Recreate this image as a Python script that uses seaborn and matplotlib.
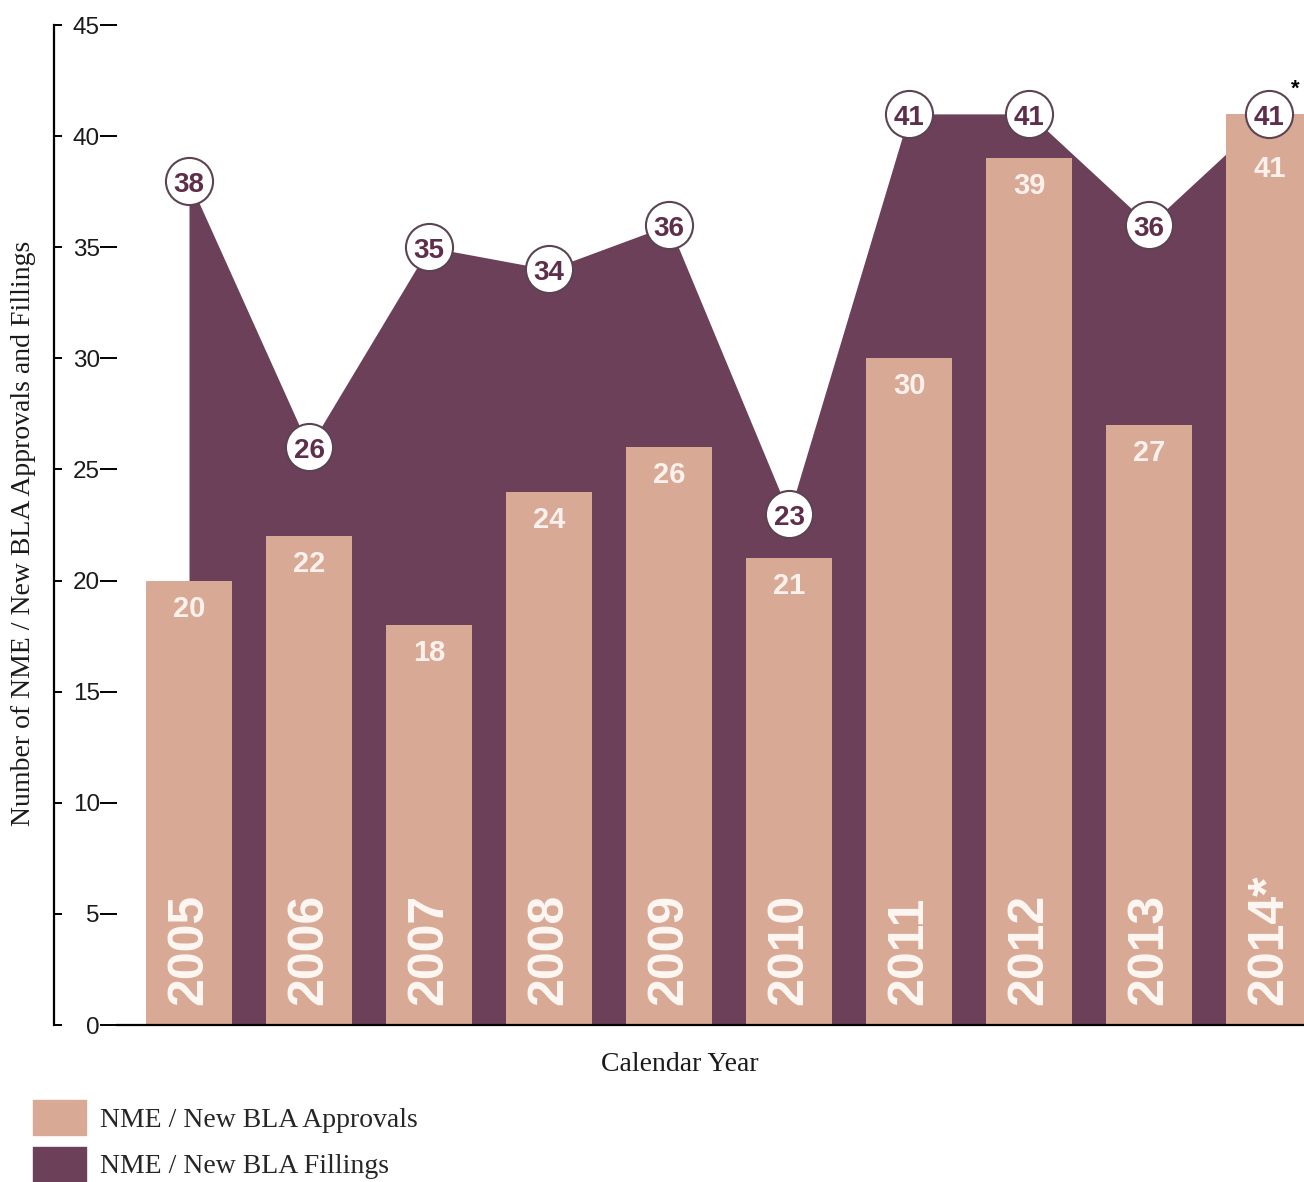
import numpy as np
import seaborn as sns
import matplotlib.pyplot as plt
from matplotlib.patches import Patch

# data
years = ['2005', '2006', '2007', '2008', '2009', '2010', '2011', '2012', '2013', '2014']
year_labels = ['2005', '2006', '2007', '2008', '2009', '2010', '2011', '2012', '2013', '2014*']
approvals = [20, 22, 18, 24, 26, 21, 30, 39, 27, 41]
fillings = [38, 26, 35, 34, 36, 23, 41, 41, 36, 41]
yticks = [0, 5, 10, 15, 20, 25, 30, 35, 40, 45]

bar_color = '#D8A995'
area_color = '#6C4059'
num_color = '#5E2E4A'

sns.set_theme(style='white')
plt.rcParams['font.family'] = ['Liberation Sans', 'DejaVu Sans']

fig = plt.figure(figsize=(13.04, 11.82), dpi=100)
ax = fig.add_axes([117 / 1304, 1 - 1025 / 1182, 1 - 117 / 1304, 1000 / 1182])

# bars (approvals) and the filled area (fillings) behind them
sns.barplot(x=years, y=approvals, color=bar_color, saturation=1, width=0.72,
            linewidth=0, ax=ax, zorder=2)
pos = np.arange(len(years))
ax.fill_between(pos, fillings, color=area_color, lw=0, zorder=1)

# circles with the fillings counts
ax.scatter(pos, fillings, s=1150, color='white', edgecolor='#5b4352',
           linewidth=1.5, zorder=4, clip_on=False)
for i, f in enumerate(fillings):
    ax.annotate(str(f), xy=(i, f), xytext=(0, -1), textcoords='offset pixels',
                ha='center', va='center_baseline', fontsize=20,
                fontweight='bold', color=num_color, zorder=5)
ax.annotate('*', xy=(pos[-1], fillings[-1]), xytext=(26, 14),
            textcoords='offset pixels', ha='center', va='bottom',
            fontsize=16, fontweight='bold', color='black')

# value labels on bars + year labels inside bars
for i, a in enumerate(approvals):
    off = -55 if abs(a - fillings[i]) < 2 else -28
    ax.annotate(str(a), xy=(i, a), xytext=(0, off), textcoords='offset pixels',
                ha='center', va='center', fontsize=21, fontweight='bold',
                color='#FCF1EC', zorder=3)
    ax.annotate(year_labels[i], xy=(i, 0), xytext=(0, 20),
                textcoords='offset pixels', rotation=90, ha='center',
                va='bottom', fontsize=36, fontweight='bold', color='#FDF6F2',
                zorder=3)

ax.set_xlim(-0.6, 9.29)
ax.set_ylim(0, 45)
ax.set_xticks([])
ax.set_yticks(yticks)

# left axis: spine pushed out, labels sit to the right of it
for s in ['top', 'right']:
    ax.spines[s].set_visible(False)
ax.spines['left'].set_position(('outward', 45.4))
ax.spines['left'].set_linewidth(1.6)
ax.spines['left'].set_color('black')
ax.spines['bottom'].set_linewidth(1.6)
ax.spines['bottom'].set_color('black')
ax.spines['bottom'].set_zorder(6)
ax.tick_params(axis='y', direction='in', length=6, width=1.4, color='black',
               pad=-33, labelsize=17.5, labelcolor='#1a1a1a', left=True)

sec = ax.secondary_yaxis('left')
sec.set_yticks(yticks)
sec.spines['left'].set_visible(False)
sec.tick_params(axis='y', direction='out', length=12.5, width=1.4,
                color='black', labelleft=False)

ax.set_xlabel('Calendar Year', family='Liberation Serif', fontsize=20,
              color='#1a1a1a')
ax.xaxis.set_label_coords(0.474, -0.027)
ax.set_ylabel('Number of NME / New BLA Approvals and Fillings',
              family='Liberation Serif', fontsize=20, color='#1a1a1a')
ax.yaxis.set_label_coords(-0.068, 0.492)

fig.legend(handles=[Patch(color=bar_color, label='NME / New BLA Approvals'),
                    Patch(color=area_color, label='NME / New BLA Fillings')],
           loc='upper left', bbox_to_anchor=(33 / 1304, 1 - 1100 / 1182),
           frameon=False, borderpad=0, borderaxespad=0, handlelength=1.9,
           handleheight=1.56, handletextpad=0.5, labelspacing=0.42,
           prop={'family': 'Liberation Serif', 'size': 20})

fig.savefig('out.png', dpi=100)
